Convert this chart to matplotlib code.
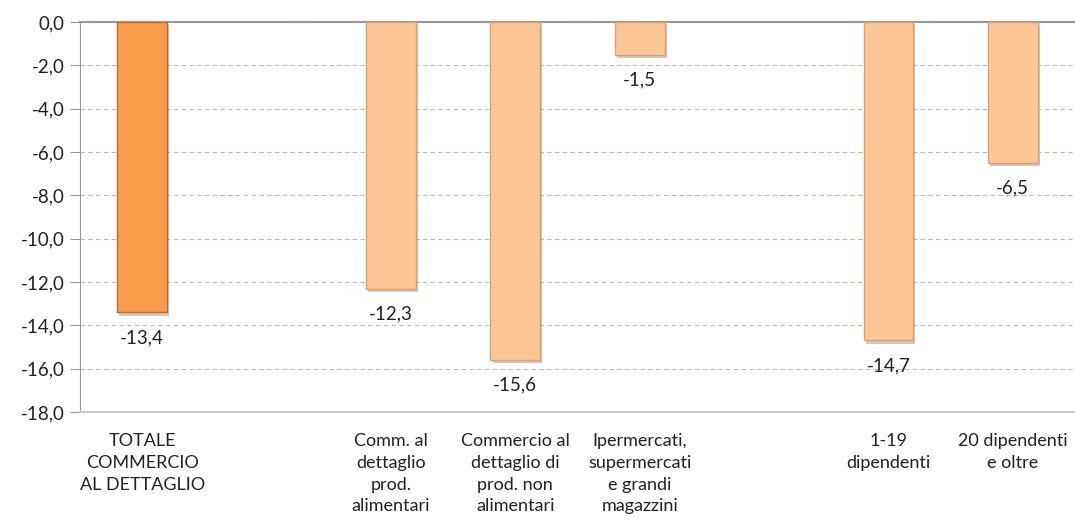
import numpy as np
import matplotlib.pyplot as plt
import matplotlib.patheffects as pe

# categories (empty slots are gaps between groups)
categories = [
    "TOTALE\nCOMMERCIO\nAL DETTAGLIO",
    "",
    "Comm. al\ndettaglio\nprod.\nalimentari",
    "Commercio al\ndettaglio di\nprod. non\nalimentari",
    "Ipermercati,\nsupermercati\ne grandi\nmagazzini",
    "",
    "1-19\ndipendenti",
    "20 dipendenti\ne oltre",
]
values = [-13.4, np.nan, -12.3, -15.6, -1.5, np.nan, -14.7, -6.5]
highlight = [True, False, False, False, False, False, False, False]

plt.rcParams['font.family'] = ['Lato', 'DejaVu Sans']

fig = plt.figure(figsize=(10.75, 5.25), dpi=100)
ax = fig.add_axes([80 / 1075, 1 - 412 / 525, 1 - 80 / 1075, 390 / 525])

x = np.arange(len(categories))
for xi, v, hl in zip(x, values, highlight):
    if np.isnan(v):
        continue
    fc = '#F99D4C' if hl else '#FCC796'
    ec = '#C86A22' if hl else '#E0A06A'
    b = ax.bar(xi, v, width=0.4, color=fc, edgecolor=ec, linewidth=1.0, zorder=3)
    b[0].set_path_effects([pe.SimplePatchShadow(offset=(1.5, -2.5), shadow_rgbFace='#888888', alpha=0.45),
                           pe.Normal()])
    ax.annotate(f"{v:.1f}".replace('.', ','), (xi, v), xytext=(0, -12),
                textcoords='offset points', ha='center', va='top',
                fontsize=13.5, color='#222222', zorder=4)

ax.set_xlim(-0.5, len(categories) - 0.5)
ax.set_ylim(-18, 0)
yt = np.arange(-18, 0.1, 2)
ax.set_yticks(yt)
ax.set_yticklabels([f"{t:.1f}".replace('.', ',') for t in yt], fontsize=13.5, color='#222222')
ax.yaxis.grid(True, linestyle=(0, (4, 3)), color='#BBBBBB', linewidth=0.8, zorder=0)
ax.tick_params(axis='y', length=7, color='#999999', pad=4)
ax.tick_params(axis='x', length=0, pad=15)
ax.set_xticks(x)
ax.set_xticklabels(categories, fontsize=13, color='#222222', linespacing=1.45, va='top')

ax.spines['right'].set_visible(False)
ax.spines['left'].set_color('#999999')
ax.spines['top'].set_color('#999999')
ax.spines['top'].set_linewidth(1.5)
ax.spines['bottom'].set_color('#CCCCCC')
ax.spines['bottom'].set_linewidth(1.5)

fig.savefig('out.png', dpi=100)
